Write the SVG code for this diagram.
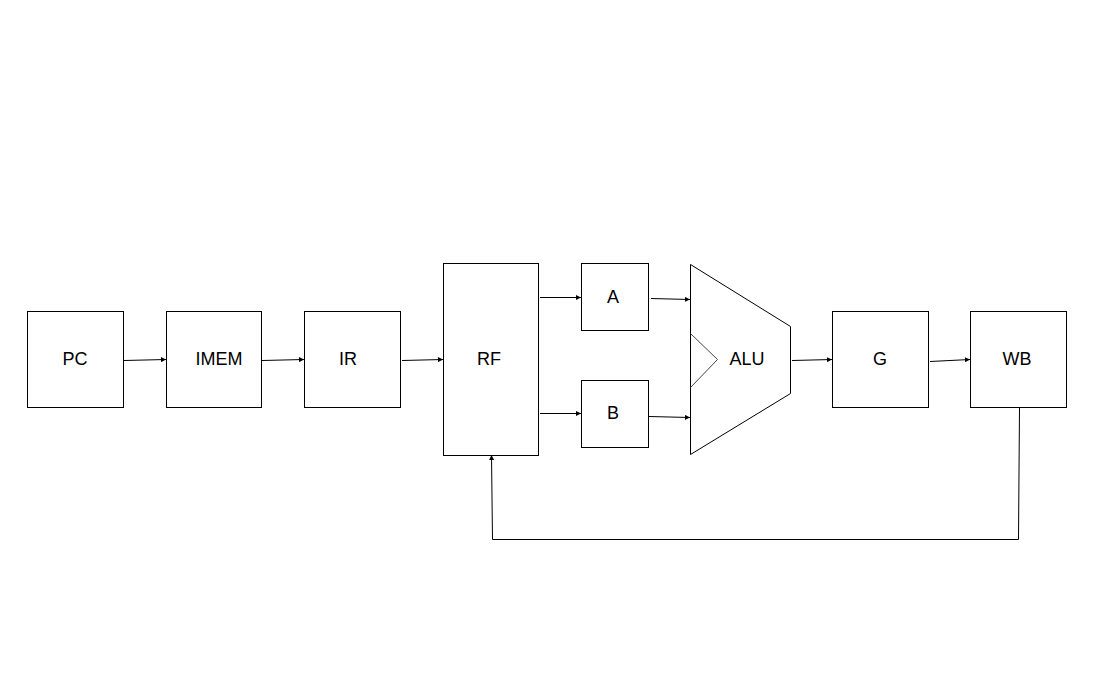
<svg xmlns="http://www.w3.org/2000/svg" width="1099" height="699" viewBox="0 0 1099 699">
<style>
.box{fill:#fff;stroke:#000;stroke-width:1}
.lbl{font-family:"Liberation Sans",Arial,sans-serif;font-size:18px;fill:#000;text-anchor:middle;dominant-baseline:central}
.c{fill:none;stroke:#000;stroke-width:1}
</style>
<defs>
<marker id="ah" viewBox="0 0 10 10" refX="10" refY="5" markerWidth="7" markerHeight="5" orient="auto" markerUnits="userSpaceOnUse">
<path d="M0,0 L10,5 L0,10 z" fill="#000"/>
</marker>
</defs>
<rect width="1099" height="699" fill="#fff"/>
<g id="PC"><rect class="box" x="27.5" y="311.5" width="96" height="96"/><text class="lbl" x="75" y="359">PC</text></g>
<g id="IMEM"><rect class="box" x="166.5" y="311.5" width="95" height="96"/><text class="lbl" x="219" y="359">IMEM</text></g>
<g id="IR"><rect class="box" x="304.5" y="311.5" width="96" height="96"/><text class="lbl" x="348" y="359">IR</text></g>
<g id="RF"><rect class="box" x="443.5" y="263.5" width="95" height="192"/><text class="lbl" x="489" y="359">RF</text></g>
<g id="A"><rect class="box" x="581.5" y="263.5" width="67" height="67"/><text class="lbl" x="613" y="297">A</text></g>
<g id="B"><rect class="box" x="581.5" y="380.5" width="67" height="67"/><text class="lbl" x="613" y="413">B</text></g>
<g id="ALU">
<polygon class="box" points="690.5,264.5 790.5,326.5 790.5,393.5 690.5,454.5"/>
<polyline fill="none" stroke="#444" stroke-width="1" points="690.5,333.5 717.5,359.5 690.5,387.5"/>
<text class="lbl" x="747" y="359">ALU</text>
</g>
<g id="G"><rect class="box" x="832.5" y="311.5" width="96" height="96"/><text class="lbl" x="880" y="359">G</text></g>
<g id="WB"><rect class="box" x="970.5" y="311.5" width="96" height="96"/><text class="lbl" x="1017" y="359">WB</text></g>
<g id="connectors">
<path class="c" d="M124,360.5 L166,359.5" marker-end="url(#ah)"/>
<path class="c" d="M262,360.5 L304,359.5" marker-end="url(#ah)"/>
<path class="c" d="M402,360.5 L443,359.5" marker-end="url(#ah)"/>
<path class="c" d="M540,297.5 L581,297.5" marker-end="url(#ah)"/>
<path class="c" d="M540,413.5 L581,413.5" marker-end="url(#ah)"/>
<path class="c" d="M651,298.5 L690,299.5" marker-end="url(#ah)"/>
<path class="c" d="M649,416.5 L690,417.5" marker-end="url(#ah)"/>
<path class="c" d="M792,360.5 L832,359.5" marker-end="url(#ah)"/>
<path class="c" d="M930,361.5 L970,359.5" marker-end="url(#ah)"/>
<path class="c" d="M1019.5,407 L1018.5,539.5 L492.5,539.5 L491.5,455" marker-end="url(#ah)"/>
</g>
</svg>
